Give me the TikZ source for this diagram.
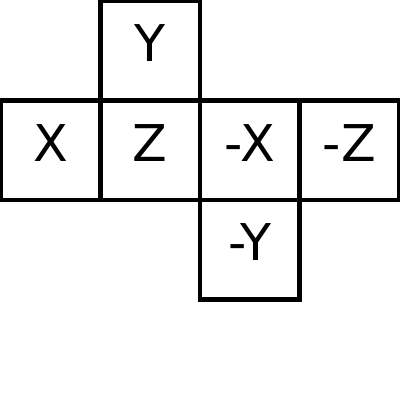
\documentclass[tikz,border=0pt]{standalone}
\usepackage{fontspec}
\setmainfont{DejaVu Sans}
\usetikzlibrary{positioning}

\begin{document}
\begin{tikzpicture}[
        node distance=0pt,
        face/.style={rectangle, draw, line width=1.3pt, outer sep=0pt,
                     minimum size=1cm, inner sep=0pt,
                     text height=0.37cm, text depth=0.15cm,
                     font=\fontsize{14.5}{17}\selectfont}
    ]
        \useasboundingbox (-0.51,1.51) rectangle (3.51,-2.51);
        \node[face] (px) at (0,0) {X};
        \node[face, right=of px] (pz) {Z};
        \node[face, right=of pz] (nx) {-X};
        \node[face, right=of nx] (nz) {-Z};
        \node[face, above=of pz] (py) {Y};
        \node[face, below=of nx] (ny) {-Y};
    \end{tikzpicture}
\end{document}
